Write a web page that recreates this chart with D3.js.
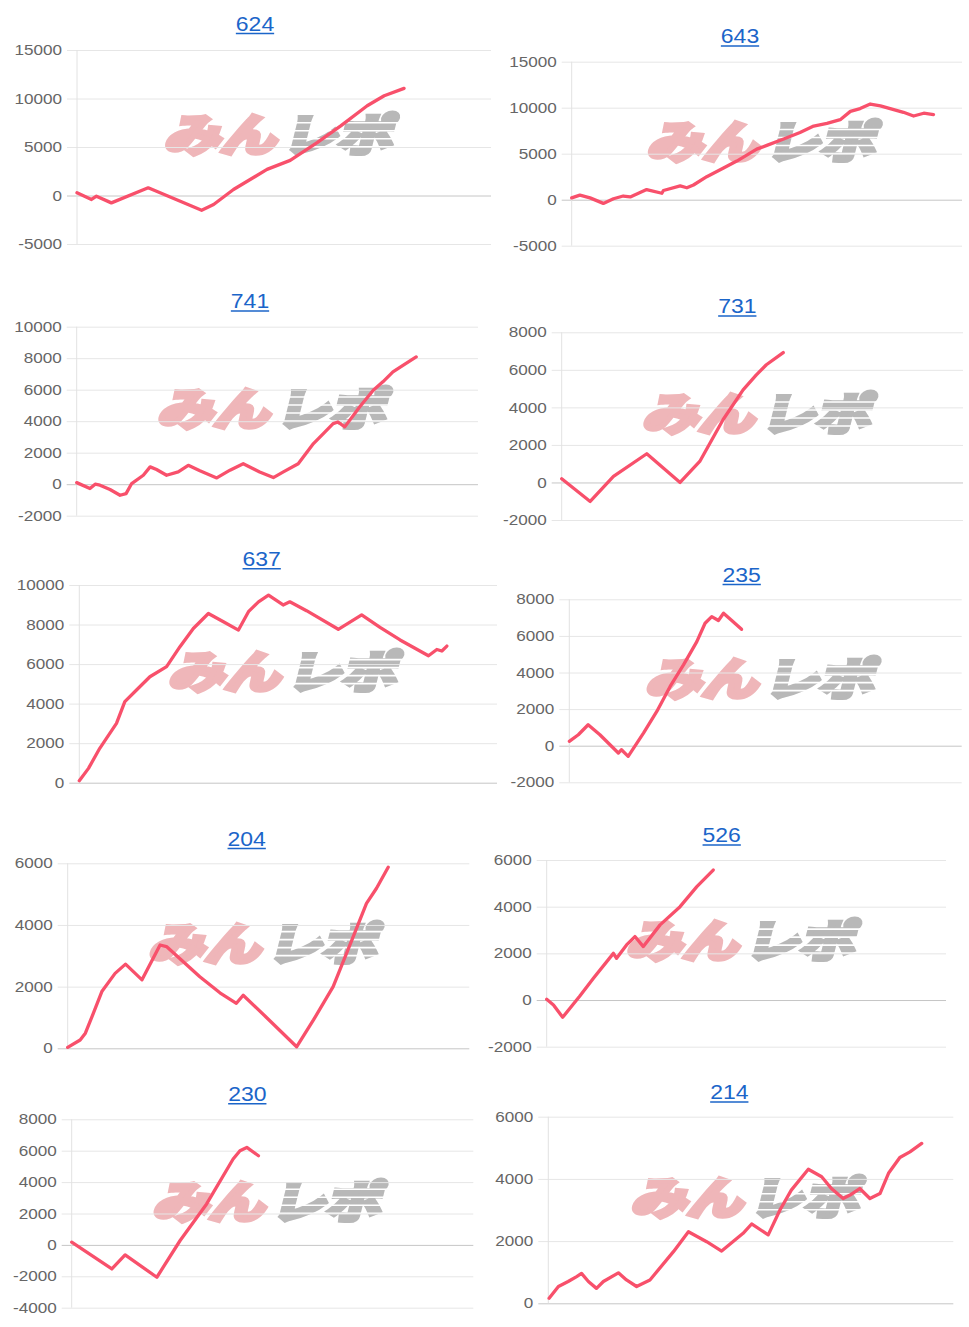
<!DOCTYPE html>
<html><head><meta charset="utf-8">
<script src="https://cdn.jsdelivr.net/npm/d3@7"></script>
<style>
html,body{margin:0;padding:0;background:#fff;}
svg{display:block;}
</style></head>
<body>
<svg id="c" width="969" height="1327"></svg>
<script>
// ---------- data ----------
const titles = ["624","643","741","731","637","235","204","526","230","214"];

const ticks624 = [-5000,0,5000,10000,15000];
const ticks643 = [-5000,0,5000,10000,15000];
const ticks741 = [-2000,0,2000,4000,6000,8000,10000];
const ticks731 = [-2000,0,2000,4000,6000,8000];
const ticks637 = [0,2000,4000,6000,8000,10000];
const ticks235 = [-2000,0,2000,4000,6000,8000];
const ticks204 = [0,2000,4000,6000];
const ticks526 = [-2000,0,2000,4000,6000];
const ticks230 = [-4000,-2000,0,2000,4000,6000,8000];
const ticks214 = [0,2000,4000,6000];

// x = progress (% of axis width), y = balance
const x624 = [0,3.5,4.7,8.3,17.2,30.1,33.0,37.8,45.9,51.5,58.0,63.7,70.1,74.2,79.0];
const y624 = [280,-410,-70,-760,790,-1520,-930,620,2690,3620,5450,7180,9250,10280,11040];

const x643 = [0,2.1,4.7,8.1,10.7,13.2,15.0,19.2,23.1,23.5,27.8,29.5,31.2,34.6,38.9,42.3,47.4,50.0,54.3,58.5,62.0,65.4,68.8,71.4,73.9,76.5,79.1,81.6,85.0,87.6,90.2,92.7];
const y643 = [200,500,200,-400,100,400,300,1100,700,1000,1500,1300,1600,2500,3450,4200,5500,5900,6600,7300,8000,8300,8700,9600,9900,10400,10200,9900,9500,9100,9400,9250];

const x741 = [0,3.3,4.6,5.8,8.3,10.8,12.3,13.7,16.6,18.3,19.9,22.4,25.3,27.8,30.7,34.9,38.2,41.5,45.6,49.0,51.5,55.2,59.0,61.4,63.9,65.1,66.8,70.5,73.9,76.3,78.8,81.3,84.6];
const y741 = [100,-275,0,-60,-340,-700,-600,40,570,1100,930,570,780,1200,850,400,890,1300,780,420,780,1300,2580,3200,3850,3950,3640,4900,5970,6500,7130,7550,8080];

const x731 = [0,7.1,12.9,21.2,29.5,34.4,40.2,45.2,48.5,51.0,55.2];
const y731 = [195,-1010,320,1530,0,1120,3340,4930,5730,6270,6920];

const x637 = [0,2.2,4.9,8.9,10.9,13.7,16.9,20.9,24.1,27.3,30.9,34.5,38.1,40.5,42.9,45.3,48.8,50.4,54.4,62.0,67.6,72.0,76.8,83.6,85.6,86.8,88.0];
const y637 = [100,725,1740,3000,4100,4690,5360,5870,6880,7800,8560,8140,7720,8650,9150,9490,8990,9150,8700,7760,8490,7860,7220,6420,6740,6660,6910];

const x235 = [0,2.3,4.8,7.8,12.5,13.3,15.0,18.9,22.3,25.7,29.1,32.5,34.6,36.3,38.0,39.3,41.4,43.9];
const y235 = [236,600,1145,600,-400,-220,-580,690,1870,3240,4420,5690,6690,7050,6840,7240,6840,6360];

const x204 = [0,3.1,4.4,6.4,8.5,11.8,14.4,18.5,23.0,24.6,32.9,37.9,42.0,43.7,49.5,57.0,61.2,66.1,71.1,74.4,76.9,79.8];
const y204 = [30,270,490,1140,1840,2430,2730,2220,3350,3300,2320,1800,1460,1720,1000,50,920,2000,3620,4700,5190,5870];

const x526 = [0,1.7,4.0,8.3,11.7,16.7,17.5,20.0,22.1,24.2,28.4,33.4,37.6,41.7];
const y526 = [30,-210,-740,170,930,2000,1790,2360,2720,2290,3220,4000,4860,5570];

const x230 = [0,10.0,13.3,21.2,27.0,33.6,40.2,41.9,43.6,46.5];
const y230 = [170,-1530,-640,-2060,280,2610,5470,6000,6210,5680];

const x214 = [0.2,2.5,4.9,7.0,8.2,9.9,11.9,13.6,17.3,19.3,21.8,25.1,30.9,34.6,39.1,42.8,48.1,50.2,54.3,57.2,60.0,64.2,67.5,69.9,72.8,74.5,76.9,79.4,81.9,84.0,86.8,89.3,92.2];
const y214 = [160,540,700,860,960,700,480,700,980,750,540,750,1660,2300,1980,1680,2250,2550,2200,3000,3640,4310,4070,3690,3370,3480,3690,3370,3530,4180,4690,4870,5140];

const tickSets = [ticks624,ticks643,ticks741,ticks731,ticks637,ticks235,ticks204,ticks526,ticks230,ticks214];
const xSets = [x624,x643,x741,x731,x637,x235,x204,x526,x230,x214];
const ySets = [y624,y643,y741,y731,y637,y235,y204,y526,y230,y214];

// ---------- layout (pixels) ----------
const layout = [
  {l:77,   r:491, t:50,    b:244,    tx:255,   ty:30.7},
  {l:571.7,r:962, t:61.7,  b:245.7,  tx:740,   ty:43.3},
  {l:76.7, r:478, t:326.7, b:515.7,  tx:250,   ty:308.3},
  {l:561.7,r:963, t:332.3, b:520,    tx:737.3, ty:313.3},
  {l:79.3, r:497, t:585,   b:782.7,  tx:261.7, ty:566},
  {l:569.3,r:961.7,t:599.3,b:782.3,  tx:741.7, ty:581.7},
  {l:67.7, r:469.3,t:863.3,b:1048.3, tx:246.7, ty:845.7},
  {l:546.7,r:946, t:860,   b:1046.7, tx:721.7, ty:842.3},
  {l:71.7, r:473.3,t:1119.3,b:1307.7,tx:247.3, ty:1101},
  {l:548.3,r:953.3,t:1116.7,b:1303.3,tx:729.3, ty:1099.3}
];

const FONT = "'Liberation Sans', Arial, Helvetica, sans-serif";
const svg = d3.select("#c");

titles.forEach((title, i) => {
  const L = layout[i];
  const ticks = tickSets[i];
  const g = svg.append("g");
  const x = d3.scaleLinear().domain([0,100]).range([L.l, L.r]);
  const y = d3.scaleLinear().domain([d3.min(ticks), d3.max(ticks)]).range([L.b, L.t]);

  // watermark
  const cx = (L.l + L.r)/2 - 2, cy = (L.t + L.b)/2 - 13;
  const wm = g.append("g").attr("transform", `translate(${cx},${cy}) skewX(-14)`);
  wm.append("text").text("みん")
    .attr("x", -2).attr("y", 17)
    .attr("text-anchor","end")
    .attr("textLength", 112).attr("lengthAdjust","spacingAndGlyphs")
    .style("font-family","'Noto Sans CJK JP', sans-serif")
    .style("font-weight", 700).style("font-size","44px")
    .style("fill","#efb6b9").style("stroke","#efb6b9").style("stroke-width",5)
    .style("stroke-linejoin","miter");
  wm.append("text").text("レポ")
    .attr("x", 4).attr("y", 17)
    .attr("text-anchor","start")
    .attr("textLength", 110).attr("lengthAdjust","spacingAndGlyphs")
    .style("font-family","'Noto Sans CJK JP', sans-serif")
    .style("font-weight", 700).style("font-size","44px")
    .style("fill","#b8b8b8").style("stroke","#b8b8b8").style("stroke-width",5)
    .style("stroke-linejoin","miter");
  // speed-stripe effect on the grey half
  [-12,-4,4,12].forEach(dy => {
    wm.append("rect").attr("x", 2).attr("y", dy).attr("width", 120).attr("height", 1.6).attr("fill","#fff");
  });

  // y axis with gridlines
  const ax = g.append("g")
    .attr("transform", `translate(${L.l - 10},0)`)
    .call(d3.axisLeft(y).tickValues(ticks).tickSize(-(L.r - L.l + 10)).tickPadding(5).tickFormat(d => String(d)));
  ax.select(".domain").remove();
  ax.selectAll(".tick line")
    .attr("stroke", d => d === 0 ? "#c6c6c6" : "#e6e6e6")
    .attr("stroke-width", 1);
  ax.selectAll(".tick text")
    .attr("fill", "#666")
    .style("font-family", FONT).style("font-size", "14.5px")
    .attr("transform", "translate(-5,0) scale(1.18,1) translate(5,0)");

  // vertical axis line
  g.append("line").attr("x1", L.l).attr("x2", L.l).attr("y1", L.t).attr("y2", L.b)
    .attr("stroke", "#e2e2e2").attr("stroke-width", 1);

  // series line
  const pts = xSets[i].map((v, k) => [v, ySets[i][k]]);
  g.append("path").datum(pts)
    .attr("d", d3.line().x(d => x(d[0])).y(d => y(d[1])))
    .attr("fill","none").attr("stroke","#f8506b").attr("stroke-width",3.3)
    .attr("stroke-linejoin","round").attr("stroke-linecap","round");

  // title (link style)
  const tt = g.append("text").text(title)
    .attr("x", 0).attr("y", 0)
    .attr("text-anchor","middle")
    .attr("fill","#1b65c9")
    .style("font-family", FONT).style("font-size","20.5px")
    .attr("transform", `translate(${L.tx},${L.ty}) scale(1.12,1)`);
  const w = tt.node().getComputedTextLength() * 1.12;
  g.append("line").attr("x1", L.tx - w/2).attr("x2", L.tx + w/2)
    .attr("y1", L.ty + 2.8).attr("y2", L.ty + 2.8)
    .attr("stroke","#1b65c9").attr("stroke-width",1.5);
});
</script>
</body></html>
